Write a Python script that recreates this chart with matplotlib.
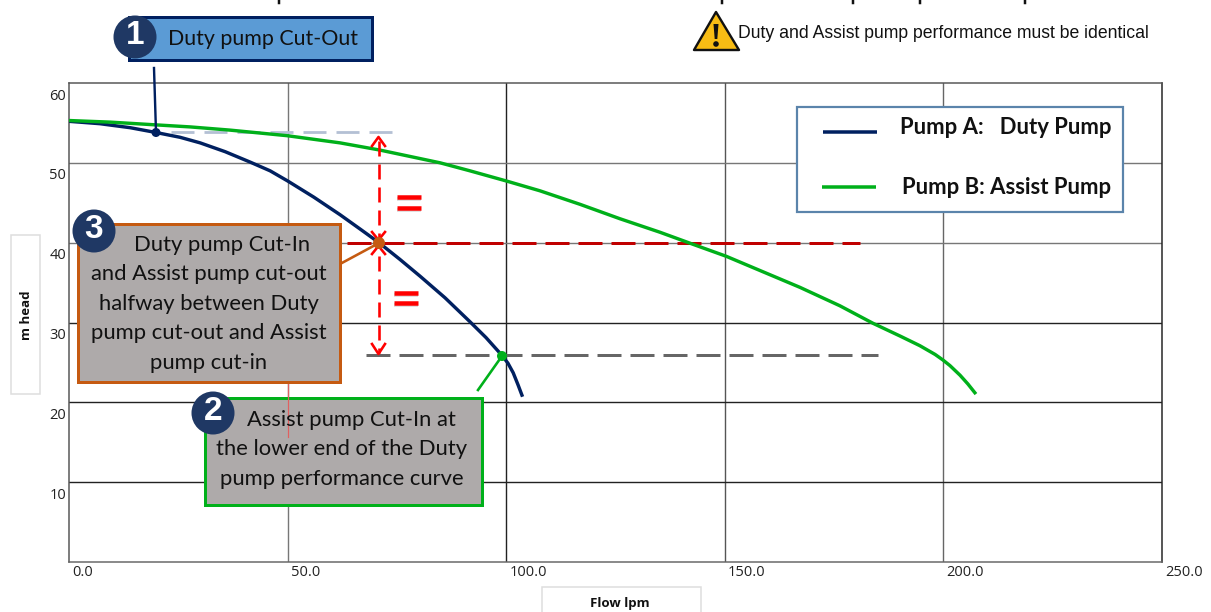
import matplotlib
matplotlib.use("Agg")
import matplotlib.pyplot as plt
from matplotlib.patches import Rectangle, Circle, Polygon
from matplotlib.transforms import ScaledTranslation

plt.rcParams['lines.scale_dashes'] = False
PT = 0.72  # points per pixel at dpi 100

# ---- data ----
duty_flow = [0, 7.1, 14.0, 19.9, 25.4, 30.0, 35.7, 41.4, 46.0, 50.1, 56.0, 62.0, 66.6, 70.9,
             75.7, 80.3, 86.0, 91.7, 95.4, 99.0, 100.4, 101.6, 102.7, 103.6]
duty_head = [55.2, 54.9, 54.4, 53.8, 53.2, 52.5, 51.4, 50.1, 49.0, 47.7, 45.7, 43.5, 41.7, 40.0,
             37.9, 35.8, 33.1, 30.1, 28.1, 25.9, 24.9, 23.7, 22.2, 20.9]
assist_flow = [0, 9.4, 18.5, 27.7, 36.8, 49.9, 62.0, 71.1, 84.9, 91.7, 100.2, 107.7, 116.9, 126.0,
               135.2, 142.7, 150.3, 158.1, 167.2, 176.3, 183.9, 190.1, 194.6, 198.1, 199.9,
               201.5, 203.8, 205.6, 207.2]
assist_head = [55.3, 55.1, 54.8, 54.5, 54.1, 53.4, 52.5, 51.6, 50.0, 49.0, 47.7, 46.5, 44.8, 43.0,
               41.3, 39.8, 38.3, 36.5, 34.4, 32.1, 29.9, 28.3, 27.1, 26.0, 25.3,
               24.6, 23.4, 22.3, 21.2]
x_ticks = [0, 50, 100, 150, 200, 250]
x_tick_labels = ['0.0', '50.0', '100.0', '150.0', '200.0', '250.0']
y_ticks = [10, 20, 30, 40, 50, 60]
y_tick_labels = ['10', '20', '30', '40', '50', '60']
cut_out = (19.9, 53.8)
mid_point = (70.9, 40.0)
cut_in = (99.0, 25.9)

NAVY, GREEN, ORANGE = '#002060', '#00b01a', '#c55a11'
FILL = '#aeaaaa'
SANS = 'Lato'

W, H = 1211, 612
fig = plt.figure(figsize=(W / 100, H / 100), dpi=100, facecolor='white')
L, R, T, B = 69, 1162, 83, 562
ax = fig.add_axes([L / W, 1 - B / H, (R - L) / W, (B - T) / H])
ax.set_xlim(0, 250)
ax.set_ylim(0, 60)

x_colors = ['#777777', '#222222', '#555555', '#666666']
for v, c in zip(x_ticks[1:5], x_colors):
    ax.axvline(v, color=c, lw=1.4 * PT, zorder=1)
y_colors = ['#222222', '#222222', '#222222', '#777777', '#777777']
for v, c in zip(y_ticks[:5], y_colors):
    ax.axhline(v, color=c, lw=1.4 * PT, zorder=1)
for s, c in (('top', '#555555'), ('right', '#222222'), ('left', '#555555'), ('bottom', '#666666')):
    ax.spines[s].set_color(c)
    ax.spines[s].set_linewidth(1.5 * PT)

ax.set_xticks(x_ticks, x_tick_labels, ha='left', fontsize=10.5, family='Open Sans', color='#222222')
ax.set_yticks(y_ticks, y_tick_labels, va='center', fontsize=10.5, family='Open Sans', color='#222222')
ax.tick_params(length=0, pad=2)
for t in ax.get_xticklabels():
    t.set_transform(t.get_transform() + ScaledTranslation(3 / 100, 0, fig.dpi_scale_trans))
for t in ax.get_yticklabels():
    t.set_transform(t.get_transform() + ScaledTranslation(0, -13 / 100, fig.dpi_scale_trans))

# reference dashed levels
ax.plot([23.4, 74.2], [cut_out[1]] * 2, color='#b4c0d4', lw=2.8 * PT, ls=(0, (23 * PT, 10 * PT)), zorder=2)
ax.plot([63.6, 181], [mid_point[1]] * 2, color='#c00000', lw=3 * PT, ls=(0, (24 * PT, 9 * PT)), zorder=2)
ax.plot([68, 185], [cut_in[1]] * 2, color='#666666', lw=3 * PT, ls=(0, (24 * PT, 9 * PT)), zorder=2)

ax.plot(duty_flow, duty_head, color=NAVY, lw=3.4 * PT, zorder=3)
ax.plot(assist_flow, assist_head, color=GREEN, lw=3.4 * PT, zorder=4)

# overlay in pixel coordinates for the annotation graphics
ov = fig.add_axes([0, 0, 1, 1], facecolor='none')
ov.set_xlim(0, W)
ov.set_ylim(H, 0)
ov.axis('off')


def box(x0, y0, x1, y1, fc, ec, lw=3, z=5):
    ov.add_patch(Rectangle((x0, y0), x1 - x0, y1 - y0, fc=fc, ec=ec, lw=lw * PT, zorder=z))


def badge(x, y, s):
    ov.add_patch(Circle((x, y), 21.5, fc='#1f3864', ec='none', zorder=8))
    ov.text(x, y - 1, s, color='white', fontsize=24, fontweight='bold', ha='center', va='center',
            family='Liberation Sans', zorder=9)


# connectors
ov.plot([154, 156], [68, 132], color=NAVY, lw=2.4 * PT, zorder=4)
ov.add_patch(Circle((156, 132.5), 4.5, fc=NAVY, ec='none', zorder=6))
ov.plot([340, 379], [264, 243], color=ORANGE, lw=2.6 * PT, zorder=4)
ov.plot([478, 502], [390, 356], color=GREEN, lw=2.6 * PT, zorder=4)
ov.add_patch(Circle((502, 356), 5, fc=GREEN, ec='none', zorder=6))

# red double arrow
RED = '#ff0000'
ov.plot([378.5, 378.5], [141, 353], color=RED, lw=2.6 * PT, ls=(0, (15 * PT, 8 * PT)), zorder=5)
for pts in ([(372, 146), (378.5, 137), (385, 146)], [(372, 344), (378.5, 354), (385, 344)],
            [(372, 232), (378.5, 240), (385, 232)], [(372, 254), (378.5, 246), (385, 254)]):
    ov.plot(*zip(*pts), color=RED, lw=2.6 * PT, zorder=5)
ov.add_patch(Circle((379, 243), 6, fc=ORANGE, ec='none', zorder=6))

# equals signs
for x0, x1, ys in ((397, 421, (197, 208)), (394, 418, (293, 303))):
    for y in ys:
        ov.plot([x0, x1], [y + 1.5, y + 1.5], color='#cccccc', lw=4 * PT, alpha=.6, zorder=4,
                solid_capstyle='butt')
        ov.plot([x0, x1], [y, y], color=RED, lw=4.5 * PT, zorder=5, solid_capstyle='butt')

# callouts
TXT = dict(fontsize=15.8, family=SANS, color='#111111', ha='center', va='center', zorder=8)
box(129, 17, 372, 60, '#5b9bd5', NAVY)
ov.text(263.5, 39, 'Duty pump Cut-Out', **{**TXT, 'fontsize': 15.4})
badge(135, 37, '1')

box(78, 224, 340, 382, FILL, ORANGE)
for cx, y, s in ((222, 245, 'Duty pump Cut-In'), (209, 274, 'and Assist pump cut-out'),
                 (209, 304, 'halfway between Duty'), (209, 333, 'pump cut-out and Assist'),
                 (209, 363, 'pump cut-in')):
    ov.text(cx, y, s, **TXT)
badge(94, 231, '3')

box(205, 398, 482, 505, FILL, GREEN)
ov.plot([288, 288], [384, 437], color='#e06060', lw=1.2 * PT, zorder=6)
for cx, y, s in ((351, 420, 'Assist pump Cut-In at'), (342, 449, 'the lower end of the Duty'),
                 (342, 479, 'pump performance curve')):
    ov.text(cx, y, s, **TXT)
badge(213, 413, '2')

# legend box
box(797, 107, 1123, 212, 'white', '#5b84ab', lw=2.2)
ov.plot([823, 877], [132, 132], color=NAVY, lw=3.5 * PT, zorder=8, solid_capstyle='butt')
ov.plot([822, 876], [187, 187], color=GREEN, lw=3.5 * PT, zorder=8, solid_capstyle='butt')
LEG = dict(fontsize=15.9, family=SANS, fontweight='bold', color='#111111', ha='right', va='center', zorder=8)
ov.text(1111, 128, 'Pump A:   Duty Pump', **LEG)
ov.text(1111, 187, 'Pump B: Assist Pump', **LEG)

# warning
ov.add_patch(Polygon([(716, 12), (694, 50), (739, 50)], closed=True, fc='#f7bc14', ec='#111111',
                     lw=2.4 * PT, joinstyle='round', zorder=5))
ov.add_patch(Polygon([(713.5, 24), (718.5, 24), (717.3, 39), (714.7, 39)], closed=True, fc='#111111', ec='none', zorder=6))
ov.add_patch(Circle((716, 44), 2.8, fc='#111111', ec='none', zorder=6))
ov.text(738, 33.5, 'Duty and Assist pump performance must be identical', fontsize=12.7,
        family='Liberation Sans', color='#111111', ha='left', va='center', zorder=6)

# axis label boxes
box(11, 235, 40, 394, 'white', '#dddddd', lw=1.5)
ov.text(27, 315, 'm head', rotation=90, fontsize=9.5, family='Open Sans', fontweight='bold',
        color='#111111', ha='center', va='center', zorder=6)
box(542, 587, 701, 640, 'white', '#dddddd', lw=1.5)
ov.text(620, 603, 'Flow lpm', fontsize=9.5, family='Open Sans', fontweight='bold',
        color='#111111', ha='center', va='center', zorder=6)

# remains of the cropped heading at the image's top edge
for x in (279, 722, 853, 920, 1025):
    ov.plot([x, x], [0, 3], color='#111111', lw=2.5 * PT, zorder=6)

fig.savefig('out.png', dpi=100)
